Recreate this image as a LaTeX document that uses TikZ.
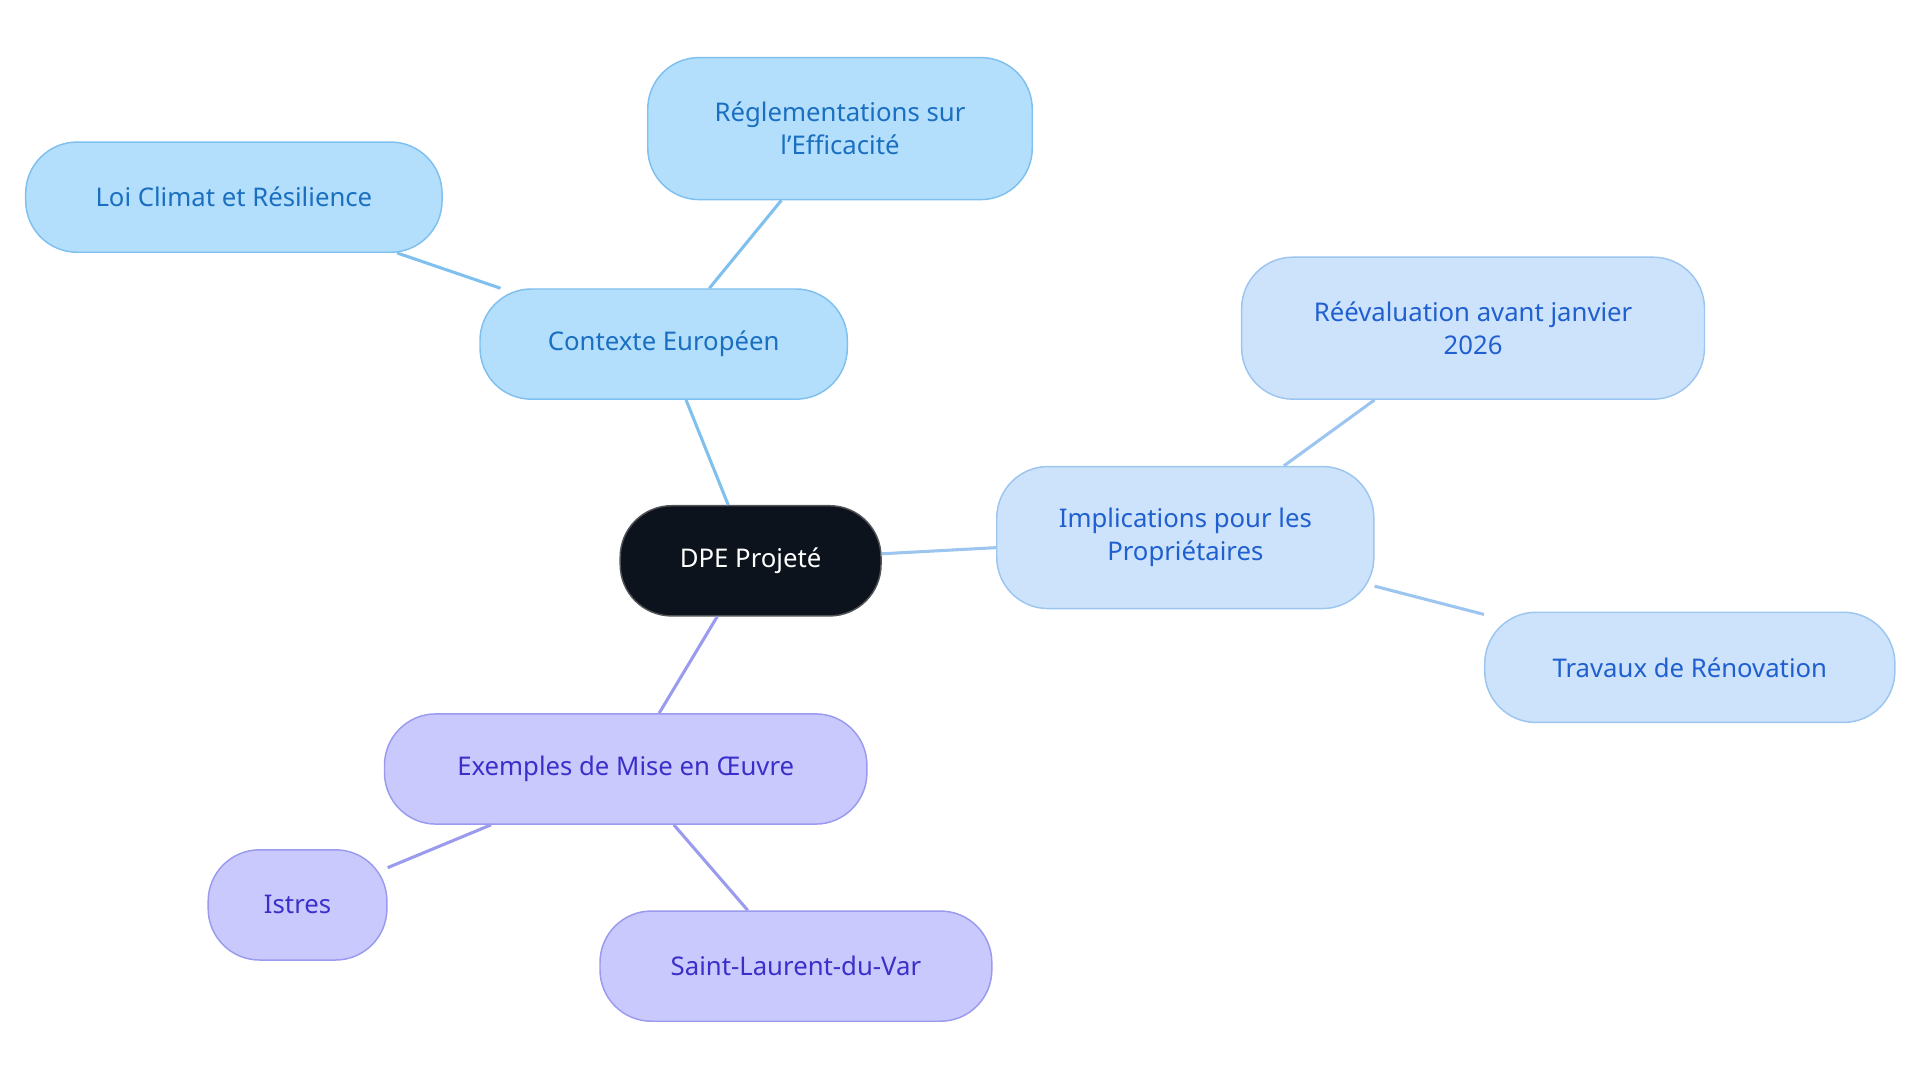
\documentclass[tikz,border=0pt]{standalone}
\usepackage{fontspec}
\setmainfont{Noto Sans}
\definecolor{bfill}{HTML}{B3DFFC}\definecolor{bdraw}{HTML}{7FC0EF}\definecolor{btext}{HTML}{1A6FC0}
\definecolor{lfill}{HTML}{CDE3FB}\definecolor{ldraw}{HTML}{9CC5EF}\definecolor{ltext}{HTML}{1F5FCF}
\definecolor{pfill}{HTML}{C9C9FD}\definecolor{pdraw}{HTML}{9A9AEE}\definecolor{ptext}{HTML}{3B2FC9}
\definecolor{dark}{HTML}{0D131C}
\begin{document}
\begin{tikzpicture}[x=1pt,y=-1pt,
 box/.style={rounded corners=42pt,line width=1.2pt,align=center,font=\fontsize{21}{27}\selectfont,inner sep=0pt},
 bl/.style={box,fill=bfill,draw=bdraw,text=btext},
 lb/.style={box,fill=lfill,draw=ldraw,text=ltext},
 pu/.style={box,fill=pfill,draw=pdraw,text=ptext},
 eb/.style={draw=bdraw,line width=2.5pt},
 el/.style={draw=ldraw,line width=2.5pt},
 ep/.style={draw=pdraw,line width=2.5pt}]
\useasboundingbox (0,0) rectangle (1568,884);
\node[box,fill=dark,draw=gray!60!dark,text=white,minimum width=213pt,minimum height=90pt] (c) at (613,458) {DPE Projeté};
\node[bl,minimum width=300pt,minimum height=90pt] (ce) at (542,281) {Contexte Européen};
\node[bl,minimum width=314pt,minimum height=116pt] (re) at (686,105) {Réglementations sur\\l'Efficacité};
\node[bl,minimum width=340pt,minimum height=90pt] (lc) at (191,161) {Loi Climat et Résilience};
\node[lb,minimum width=308pt,minimum height=116pt] (im) at (968,439) {Implications pour les\\Propriétaires};
\node[lb,minimum width=378pt,minimum height=116pt] (rv) at (1203,268) {Réévaluation avant janvier\\2026};
\node[lb,minimum width=335pt,minimum height=90pt] (tr) at (1380,545) {Travaux de Rénovation};
\node[pu,minimum width=394pt,minimum height=90pt] (ex) at (511,628) {Exemples de Mise en Œuvre};
\node[pu,minimum width=146pt,minimum height=90pt] (is) at (243,739) {Istres};
\node[pu,minimum width=320pt,minimum height=90pt] (sl) at (650,789) {Saint-Laurent-du-Var};
\begin{scope}[on background layer/.style={}]
\end{scope}
\draw[eb] (c) -- (ce); \draw[eb] (ce) -- (re); \draw[eb] (ce) -- (lc);
\draw[el] (c) -- (im); \draw[el] (im) -- (rv); \draw[el] (im) -- (tr);
\draw[ep] (c) -- (ex); \draw[ep] (ex) -- (is); \draw[ep] (ex) -- (sl);
\end{tikzpicture}
\end{document}
